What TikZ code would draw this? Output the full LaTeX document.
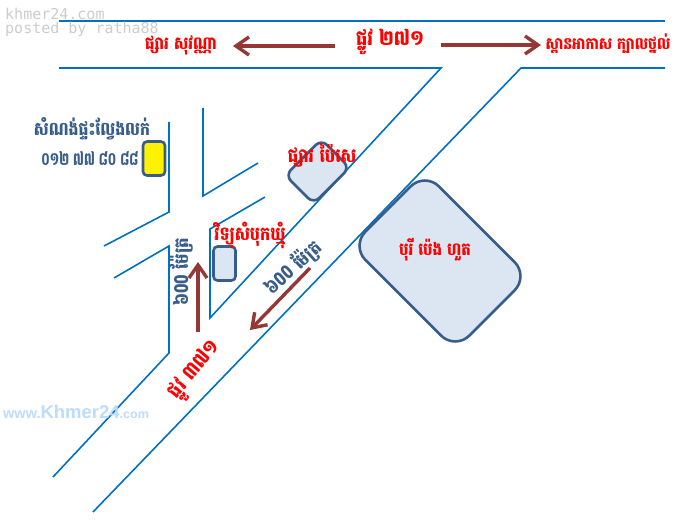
\documentclass[tikz,border=0pt]{standalone}
\usepackage{fontspec}
\newfontfamily\khmerfont[Script=Khmer]{Battambang}
\setmonofont{DejaVu Sans Mono}
\setsansfont{Liberation Sans}
\usetikzlibrary{arrows.meta}
\definecolor{roadblue}{HTML}{0070C0}
\definecolor{boxblue}{HTML}{385D8A}
\definecolor{boxfill}{HTML}{DCE6F2}
\definecolor{arrowred}{HTML}{953735}
\definecolor{waterblue}{HTML}{BBDBFF}
\newcommand{\kfont}[1]{\khmerfont\fontsize{#1}{#1}\selectfont\bfseries}
\begin{document}
\begin{tikzpicture}[x=1pt, y=-1pt,
    road/.style={draw=roadblue, line width=1.6pt, line join=miter},
    place/.style={draw=boxblue, fill=boxfill, line width=2.6pt, inner sep=0pt},
    way/.style={draw=arrowred, line width=3.4pt, -{Straight Barb[length=13pt,width=18pt,line width=3.4pt]}},
    redlabel/.style={text=red, inner sep=0pt, xscale=0.85, transform shape},
    bluelabel/.style={text=boxblue, inner sep=0pt, xscale=0.85, transform shape},
    stamp/.style={anchor=west, inner sep=0pt, text=gray!40, font=\ttfamily\fontsize{15}{15}\selectfont}]
  \useasboundingbox (0,0) rectangle (686,524);

  % roads
  \draw[road] (59,21) -- (665,21);
  \draw[road] (59,68) -- (441,68) -- (210,318) -- (210,229) -- (265,197);
  \draw[road] (665,68) -- (521,68) -- (93,512);
  \draw[road] (169,122) -- (169,212) -- (104,246);
  \draw[road] (203,108) -- (203,196) -- (258,163);
  \draw[road] (114,278) -- (169,246) -- (169,353) -- (53,477);

  % buildings
  \node[place, rounded corners=20pt, rotate=-45, minimum width=147pt, minimum height=104pt] (borey) at (440,261) {};
  \node[place, rounded corners=8pt, rotate=45, minimum width=51pt, minimum height=40pt] (market) at (317.5,171.5) {};
  \node[place, rounded corners=4pt, minimum width=22pt, minimum height=34pt] (radio) at (224.5,263.5) {};
  \node[place, fill=yellow, rounded corners=4pt, minimum width=22pt, minimum height=34pt] (shop) at (154,158.5) {};

  % arrows
  \coordinate (leftS) at (335,46);  \coordinate (leftE) at (233,46);
  \coordinate (rightS) at (441,45); \coordinate (rightE) at (541,45);
  \coordinate (upS) at (198,332);   \coordinate (upE) at (198,262);
  \coordinate (diagS) at (310,268); \coordinate (diagE) at (250,330);
  \draw[way] (leftS) -- (leftE);
  \draw[way] (rightS) -- (rightE);
  \draw[way] (upS) -- (upE);
  \draw[way] (diagS) -- (diagE);

  % labels
  \node[redlabel, font=\kfont{17.6}] (marketw) at (181,45) {ផ្សារ សុវណ្ណា};
  \node[redlabel, font=\kfont{21}] (st271) at (390,42) {ផ្លូវ ២៧១};
  \node[redlabel, font=\kfont{16.5}] (bridge) at (608,44) {ស្ពានអាកាស ក្បាលថ្នល់};
  \node[redlabel, font=\kfont{19.4}] (marketl) at (322,155) {ផ្សារ ប៉ៃសេ};
  \node[redlabel, font=\kfont{18.8}] (radiol) at (250,235) {វិទ្យុសំបុកឃ្មុំ};
  \node[redlabel, font=\kfont{17.6}] (boreyl) at (435,250) {បុរី ប៉េង ហួត};
  \node[rotate=50, redlabel, font=\kfont{20.6}] (st371) at (196,371) {ផ្លូវ ៣៧១};
  \node[bluelabel, font=\kfont{18.4}] (shopa) at (92,129) {សំណង់ផ្ទះល្វែងលក់};
  \node[bluelabel, font=\kfont{18}, xscale=0.78] (shopb) at (90,158) {០១២ ៧៧ ៨០ ៨៨};
  \node[rotate=90, bluelabel, font=\kfont{19.4}] (len400) at (182,272) {៦00 ម៉ែត្រ};
  \node[rotate=42, bluelabel, font=\kfont{19.4}] (len600) at (293.5,267.5) {៦00 ម៉ែត្រ};

  % watermarks
  \node[stamp] (stampA) at (5,14) {khmer24.com};
  \node[stamp] (stampB) at (5,29) {posted by ratha88};
  \node[anchor=west, inner sep=0pt, text=waterblue, font=\sffamily\bfseries] (stampC) at (3,412) {\fontsize{14.5}{15}\selectfont www.\fontsize{18.5}{18}\selectfont Khmer24\fontsize{12.5}{13}\selectfont .com};
\end{tikzpicture}
\end{document}
